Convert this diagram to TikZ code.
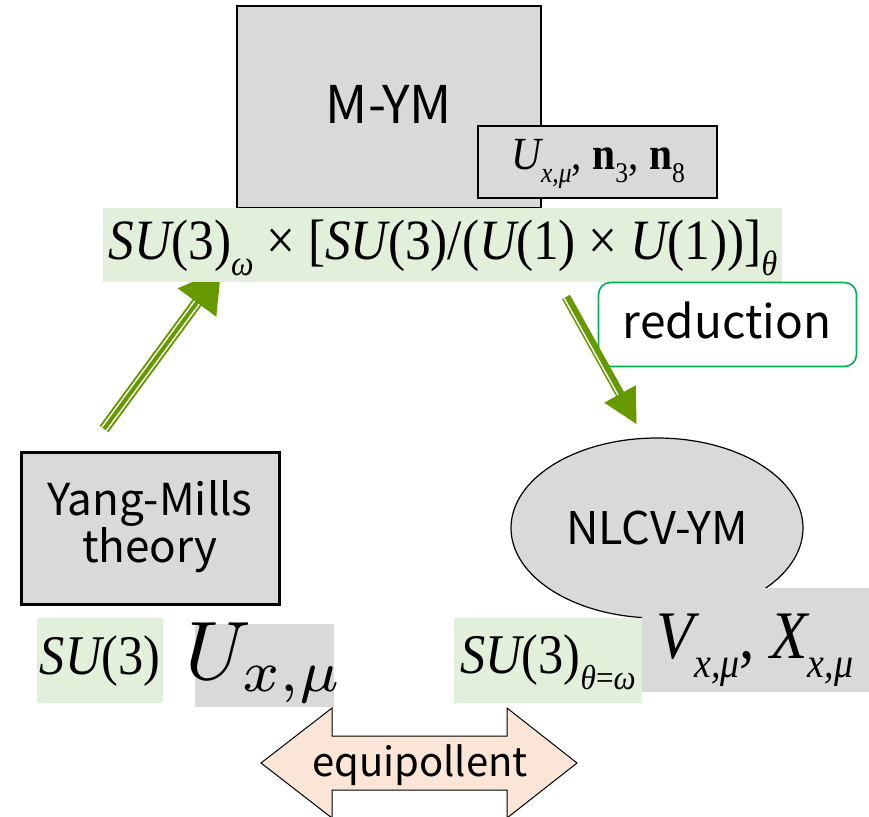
\documentclass[tikz,border=0pt]{standalone}
\usepackage{fontspec}
\usepackage{graphicx}
\usetikzlibrary{calc,shapes.geometric}
\newfontfamily\jp{Noto Sans CJK JP}
\newfontfamily\tm[FakeStretch=0.9]{Liberation Serif}
\newcommand{\tsub}[1]{\raisebox{-0.28em}{\fontsize{0.62em}{0.62em}\selectfont #1}}
\definecolor{boxgray}{HTML}{D9D9D9}
\definecolor{bandgreen}{HTML}{E2EFDA}
\definecolor{arrowgreen}{HTML}{669900}
\definecolor{framegreen}{HTML}{00B050}
\definecolor{peach}{HTML}{FBE5D6}
\begin{document}
\begin{tikzpicture}[x=1pt,y=-1pt,
  graybox/.style={draw=black,fill=boxgray,line width=1.3pt,inner sep=0pt},
  greenpatch/.style={fill=bandgreen,inner sep=0pt},
  graypatch/.style={fill=boxgray,inner sep=0pt},
  sanslabel/.style={font=\jp\fontsize{#1}{41pt}\selectfont,align=center},
  serif/.style={font=\tm\fontsize{#1}{#1}\selectfont},
  shaft/.style={arrowgreen,line width=#1},
  gap/.style={white,line width=#1}]
\useasboundingbox (0,0) rectangle (869,816);

% main M-YM box and its field label
\node[graybox,minimum width=304pt,minimum height=202pt] (mym) at (389,107) {};
\node[sanslabel=52pt] (mymtext) at (389,104) {M-YM};
\node[graybox,minimum width=239pt,minimum height=72pt] (fields) at (597.5,162) {};
\node[serif=46pt] (fieldstext) at (598,164)
  {\itshape U\tsub{x,μ}\upshape, \textbf{n}\tsub{3}, \textbf{n}\tsub{8}};

% left arrow: thin-thick-thin shaft, head hidden under the band
\coordinate (t1) at (104,429);
\coordinate (b1) at (197,302.5);
\coordinate (p1) at (221,270);
\draw[shaft=11pt] (t1) -- ($(b1)!-4pt!(t1)$);
\draw[gap=7pt] (t1) -- ($(b1)!-4pt!(t1)$);
\draw[shaft=4pt] (t1) -- ($(b1)!-4pt!(t1)$);
\fill[arrowgreen] ($(b1)!24pt!90:(p1)$) -- (p1) -- ($(b1)!24pt!-90:(p1)$) -- cycle;

% symmetry band
\node[greenpatch,minimum width=679pt,minimum height=74pt] (band) at (442.5,245) {};
\node[serif=57pt] (bandtext) at (443,248)
  {\itshape SU\upshape(3)\tsub{\itshape ω} × [\itshape SU\upshape(3)/(\itshape U\upshape(1) × \itshape U\upshape(1))]\tsub{\itshape θ}};

% reduction label and right arrow: thick-thin shaft
\node[draw=framegreen,line width=1.6pt,rounded corners=12pt,minimum width=258pt,minimum height=84pt] (red) at (727.5,324.5) {};
\node[sanslabel=46pt] (redtext) at (727,320) {reduction};
\coordinate (t2) at (566,297);
\coordinate (b2) at (620,394);
\coordinate (p2) at (636.5,424);
\draw[shaft=9pt] (t2) -- ($(b2)!-3pt!(t2)$);
\draw[gap=1.4pt] ($(t2)!2.2pt!-90:(b2)$) -- ($($(b2)!-3pt!(t2)$)!2.2pt!90:(t2)$);
\fill[arrowgreen] ($(b2)!18pt!90:(p2)$) -- (p2) -- ($(b2)!18pt!-90:(p2)$) -- cycle;

% Yang-Mills theory
\node[draw=black,fill=boxgray,line width=3pt,minimum width=258pt,minimum height=152pt] (ym) at (150,528.5) {};
\node[sanslabel=44pt] (ymtext) at (150,527) {Yang-Mills\\theory};

% NLCV-YM
\node[draw=black,fill=boxgray,line width=1.2pt,ellipse,minimum width=292pt,minimum height=180pt,
  inner sep=0pt,sanslabel=45pt] (nlcv) at (657,528) {NLCV-YM};

% variables below the theories
\node[graypatch,minimum width=227pt,minimum height=104pt] (vx) at (755.5,640) {};
\node[serif=68pt] (vxtext) at (755,650)
  {\itshape V\tsub{x,μ}\upshape, \itshape X\tsub{x,μ}};
\node[greenpatch,minimum width=188pt,minimum height=85pt] (su3r) at (548,660.5) {};
\node[serif=56pt] (su3rtext) at (548,662)
  {\itshape SU\upshape(3)\tsub{\itshape θ\upshape=\itshape ω}};
\node[greenpatch,minimum width=126pt,minimum height=85pt] (su3l) at (100,660.5) {};
\node[serif=56pt] (su3ltext) at (100,661) {\itshape SU\upshape(3)};
\node[graypatch,minimum width=139pt,minimum height=83pt] (ux) at (264.5,665) {};
\node[inner sep=0pt] (uxtext) at (265,663) {\scalebox{8.3}{$U_{x,\mu}$}};

% equipollent double arrow
\draw[fill=peach,line width=1pt]
  (261,763) -- (332,708) -- (332,736) -- (507,736) -- (507,708) -- (577,763)
  -- (507,818) -- (507,790) -- (332,790) -- (332,818) -- cycle;
\node[sanslabel=40pt] (eq) at (420,765) {equipollent};
\end{tikzpicture}
\end{document}
